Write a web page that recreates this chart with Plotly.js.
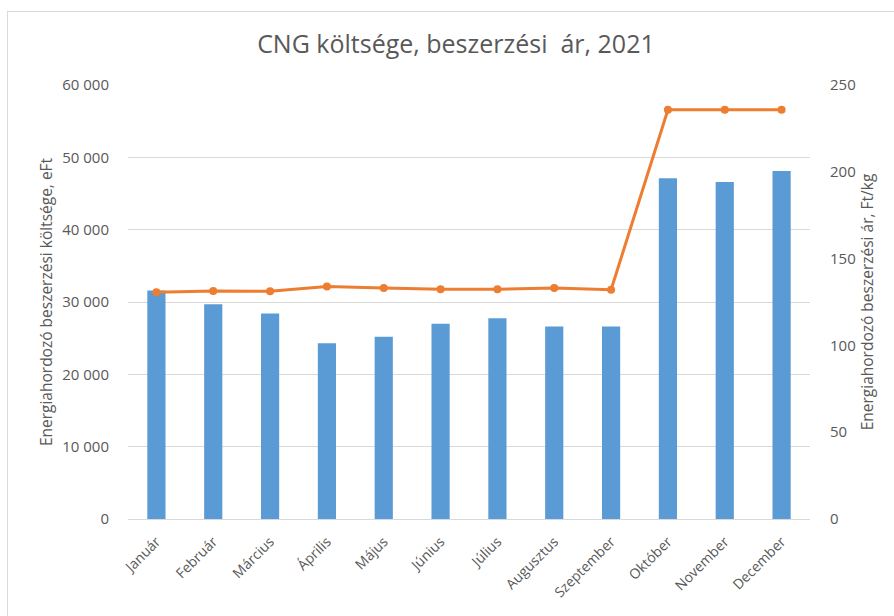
<!DOCTYPE html>
<html>
<head>
<meta charset="utf-8">
<script src="https://cdn.plot.ly/plotly-3.0.1.min.js"></script>
<style>
html,body{margin:0;padding:0;width:894px;height:616px;overflow:hidden;background:#fff;}
#chart{width:894px;height:616px;position:absolute;left:0;top:0;}
#frame{position:absolute;left:7px;top:11px;width:950px;height:700px;border:1.5px solid #d9d9d9;pointer-events:none;}
</style>
</head>
<body>
<div id="chart"></div>
<div id="frame"></div>
<script>
const months = ["Január","Február","Március","Április","Május","Június","Július","Augusztus","Szeptember","Október","November","December"];
const costs = [31600, 29700, 28400, 24300, 25200, 27000, 27750, 26600, 26600, 47100, 46600, 48100];
const prices = [130.6, 131.3, 131.2, 133.9, 133.1, 132.3, 132.3, 133.1, 132.1, 235.7, 235.7, 235.7];
const leftTicks = [0, 10000, 20000, 30000, 40000, 50000, 60000];
const leftTickText = ["0", "10 000", "20 000", "30 000", "40 000", "50 000", "60 000"];
const rightTicks = [0, 50, 100, 150, 200, 250];

const font = "Open Sans, Noto Sans, sans-serif";
const grey = "#595959";

const traces = [
  {type: "bar", x: months, y: costs, marker: {color: "#5b9bd5"}, yaxis: "y", name: "Költség"},
  {type: "scatter", mode: "lines+markers", x: months, y: prices, yaxis: "y2",
   line: {color: "#ed7d31", width: 3}, marker: {color: "#ed7d31", size: 8}, name: "Ár"}
];

const layout = {
  width: 894, height: 616,
  margin: {l: 128, r: 84, t: 85, b: 97, autoexpand: false},
  paper_bgcolor: "#fff", plot_bgcolor: "#fff",
  showlegend: false,
  bargap: 0.68,
  title: {text: "CNG költsége, beszerzési  ár, 2021", font: {family: font, size: 25, color: grey}, x: 0.51, xanchor: "center", y: 0.928, yanchor: "middle"},
  xaxis: {
    range: [-0.5, 11.5], autorange: false, automargin: false,
    tickangle: -45, tickfont: {family: font, size: 14, color: grey}, ticklabelstandoff: 8,
    showgrid: false, showline: true, linecolor: "#d9d9d9", linewidth: 1, ticks: "", zeroline: false
  },
  yaxis: {
    range: [0, 60000], tickvals: leftTicks, ticktext: leftTickText, automargin: false,
    tickfont: {family: font, size: 15, color: grey},
    gridcolor: "#d9d9d9", gridwidth: 1, zeroline: false, showline: false, ticks: "",
    ticklen: 0, ticklabelstandoff: 18,
    title: {text: "Energiahordozó beszerzési költsége, eFt", font: {family: font, size: 15.5, color: grey}, standoff: 5}
  },
  yaxis2: {
    overlaying: "y", side: "right", range: [0, 250], tickvals: rightTicks, automargin: false,
    tickfont: {family: font, size: 15, color: grey},
    showgrid: false, zeroline: false, showline: false, ticks: "", ticklabelstandoff: 19,
    title: {text: "Energiahordozó beszerzési ár, Ft/kg", font: {family: font, size: 15.5, color: grey}, standoff: 7}
  }
};

Plotly.newPlot("chart", traces, layout, {displayModeBar: false, staticPlot: true});
</script>
</body>
</html>
